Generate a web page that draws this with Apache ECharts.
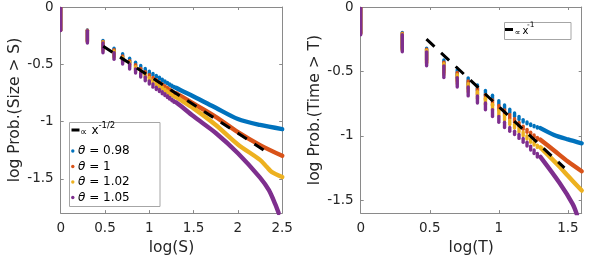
<!DOCTYPE html>
<html><head><meta charset="utf-8">
<script src="https://cdn.jsdelivr.net/npm/echarts@6/dist/echarts.min.js"></script>
<style>html,body{margin:0;padding:0;background:#fff}#c{width:598px;height:261px}</style>
</head><body><div id="c"></div>
<script>
// ---------- data ----------
const seriesNames = ['θ = 0.98', 'θ = 1', 'θ = 1.02', 'θ = 1.05'];
const seriesColors = ['#0072BD', '#D95319', '#EDB120', '#7E2F8E'];

// Left panel: log10 P(Size >= S), S = 1..20 (discrete stacks)
const sizeS = [1, 2, 3, 4, 5, 6, 7, 8, 9, 10, 11, 12, 13, 14, 15, 16, 17, 18, 19, 20];
const sizeLevBlue   = [0, -0.200, -0.293, -0.360, -0.408, -0.448, -0.482, -0.511, -0.537, -0.560, -0.580, -0.598, -0.614, -0.630, -0.645, -0.658, -0.671, -0.683, -0.694, -0.705];
const sizeLevRed    = [0, -0.202, -0.300, -0.372, -0.427, -0.468, -0.505, -0.537, -0.566, -0.592, -0.615, -0.636, -0.654, -0.671, -0.687, -0.702, -0.716, -0.729, -0.741, -0.753];
const sizeLevYellow = [0, -0.204, -0.306, -0.384, -0.440, -0.483, -0.522, -0.556, -0.588, -0.615, -0.640, -0.663, -0.682, -0.700, -0.717, -0.733, -0.748, -0.762, -0.775, -0.787];
const sizeLevPurple = [0, -0.206, -0.314, -0.399, -0.456, -0.498, -0.541, -0.577, -0.611, -0.645, -0.673, -0.700, -0.720, -0.739, -0.757, -0.774, -0.790, -0.805, -0.819, -0.832];
// Left panel: dense tails [log(S), log Prob]
const sizeTailBlue   = [[1.301,-0.705],[1.349,-0.725],[1.5,-0.781],[1.75,-0.88],[2.0,-0.978],[2.25,-1.03],[2.5,-1.066]];
const sizeTailRed    = [[1.301,-0.753],[1.349,-0.775],[1.5,-0.845],[1.75,-0.96],[2.0,-1.093],[2.25,-1.206],[2.5,-1.30]];
const sizeTailYellow = [[1.301,-0.787],[1.349,-0.81],[1.5,-0.885],[1.75,-1.03],[2.0,-1.20],[2.25,-1.335],[2.33,-1.40],[2.38,-1.44],[2.5,-1.485]];
const sizeTailPurple = [[1.301,-0.832],[1.349,-0.86],[1.5,-0.955],[1.75,-1.10],[2.0,-1.277],[2.25,-1.49],[2.35,-1.60],[2.42,-1.72],[2.46,-1.80]];
const sizeFit = [[0.48,-0.343],[2.29,-1.248]];   // ∝ x^{-1/2}

// Right panel: log10 P(Time >= T), T = 1..20
const timeT = [1, 2, 3, 4, 5, 6, 7, 8, 9, 10, 11, 12, 13, 14, 15, 16, 17, 18, 19, 20];
const timeLevBlue   = [0, -0.198, -0.319, -0.412, -0.488, -0.550, -0.605, -0.648, -0.685, -0.728, -0.761, -0.793, -0.823, -0.850, -0.874, -0.893, -0.907, -0.920, -0.930, -0.940];
const timeLevRed    = [0, -0.203, -0.328, -0.428, -0.508, -0.575, -0.632, -0.680, -0.722, -0.765, -0.800, -0.835, -0.868, -0.897, -0.925, -0.950, -0.972, -0.993, -1.012, -1.030];
const timeLevYellow = [0, -0.208, -0.336, -0.440, -0.525, -0.596, -0.657, -0.708, -0.755, -0.800, -0.840, -0.878, -0.912, -0.940, -0.970, -1.000, -1.025, -1.050, -1.072, -1.090];
const timeLevPurple = [0, -0.215, -0.348, -0.457, -0.548, -0.621, -0.690, -0.745, -0.798, -0.850, -0.895, -0.935, -0.965, -0.990, -1.020, -1.050, -1.080, -1.110, -1.137, -1.164];
const timeTailBlue   = [[1.301,-0.94],[1.4,-0.993],[1.5,-1.028],[1.6,-1.058]];
const timeTailRed    = [[1.301,-1.03],[1.4,-1.114],[1.5,-1.20],[1.6,-1.275]];
const timeTailYellow = [[1.301,-1.09],[1.44,-1.24],[1.5,-1.31],[1.6,-1.425]];
const timeTailPurple = [[1.301,-1.164],[1.44,-1.367],[1.535,-1.53],[1.565,-1.61]];
const timeFit = [[0.476,-0.25],[1.475,-1.249]];  // ∝ x^{-1}

// ticks
const sizeXTicks = [0, 0.5, 1, 1.5, 2, 2.5];
const sizeYTicks = [0, -0.5, -1, -1.5];
const timeXTicks = [0, 0.5, 1, 1.5];
const timeYTicks = [0, -0.5, -1, -1.5];

// ---------- build ----------
const FONT = 'DejaVu Sans';
const TXT = '#262626';
const AX = '#8a8a8a';

function stacks(xs, lev) {
  const out = [];
  for (let i = 0; i < xs.length - 1; i++) out.push([Math.log10(xs[i]), lev[i], lev[i + 1]]);
  return out;
}
function stackSeries(name, data, color, gi) {
  return {
    type: 'custom', name, xAxisIndex: gi * 2, yAxisIndex: gi * 2, clip: true,
    encode: { x: 0, y: [1, 2] }, data,
    renderItem: function (params, api) {
      const p1 = api.coord([api.value(0), api.value(1)]);
      const p2 = api.coord([api.value(0), api.value(2)]);
      return { type: 'line', shape: { x1: p1[0], y1: p1[1], x2: p2[0], y2: p2[1] },
        style: { stroke: color, lineWidth: 3.4, lineCap: 'round' } };
    }
  };
}
function tailSeries(name, data, color, gi) {
  return { type: 'line', name, xAxisIndex: gi * 2, yAxisIndex: gi * 2, data, showSymbol: false, symbol: 'none',
    smooth: 0.3, clip: true, lineStyle: { color, width: 4.4, cap: 'round', join: 'round' } };
}
function fitSeries(name, data, gi) {
  return { type: 'line', name, xAxisIndex: gi * 2, yAxisIndex: gi * 2, data, symbol: 'none', z: 5,
    lineStyle: { color: '#000', width: 3, type: [11, 9], cap: 'butt' } };
}
function xAxes(gi, max, ticks, name) {
  const common = { type: 'value', gridIndex: gi, min: 0, max, splitLine: { show: false },
    axisLine: { onZero: false, lineStyle: { color: AX, width: 1 } },
    axisTick: { inside: true, length: 3, customValues: ticks, lineStyle: { color: AX } } };
  return [
    Object.assign({}, common, { position: 'bottom', name, nameLocation: 'middle', nameGap: 26,
      nameTextStyle: { fontFamily: FONT, fontSize: 15.5, color: TXT },
      axisLabel: { customValues: ticks, margin: 8, fontFamily: FONT, fontSize: 13.5, color: TXT } }),
    Object.assign({}, common, { position: 'top', axisLabel: { show: false } })
  ];
}
function yAxes(gi, min, ticks, name) {
  const common = { type: 'value', gridIndex: gi, min, max: 0, splitLine: { show: false },
    axisLine: { onZero: false, lineStyle: { color: AX, width: 1 } },
    axisTick: { inside: true, length: 3, customValues: ticks, lineStyle: { color: AX } } };
  return [
    Object.assign({}, common, { position: 'left', name, nameLocation: 'middle', nameGap: 36,
      nameTextStyle: { fontFamily: FONT, fontSize: 15.5, color: TXT },
      axisLabel: { customValues: ticks, margin: 7, fontFamily: FONT, fontSize: 13.5, color: TXT } }),
    Object.assign({}, common, { position: 'right', axisLabel: { show: false } })
  ];
}

const sizeLev = [sizeLevBlue, sizeLevRed, sizeLevYellow, sizeLevPurple];
const sizeTail = [sizeTailBlue, sizeTailRed, sizeTailYellow, sizeTailPurple];
const timeLev = [timeLevBlue, timeLevRed, timeLevYellow, timeLevPurple];
const timeTail = [timeTailBlue, timeTailRed, timeTailYellow, timeTailPurple];

const series = [];
for (let k = 0; k < 4; k++) series.push(stackSeries(seriesNames[k], stacks(sizeS, sizeLev[k]), seriesColors[k], 0));
for (let k = 0; k < 4; k++) series.push(tailSeries(seriesNames[k], sizeTail[k], seriesColors[k], 0));
series.push(fitSeries('∝ x^-1/2', sizeFit, 0));
for (let k = 0; k < 4; k++) series.push(stackSeries(seriesNames[k], stacks(timeT, timeLev[k]), seriesColors[k], 1));
for (let k = 0; k < 4; k++) series.push(tailSeries(seriesNames[k], timeTail[k], seriesColors[k], 1));
series.push(fitSeries('∝ x^-1', timeFit, 1));

// legends (drawn as graphic elements)
const legendLeft = [];
legendLeft.push({ type: 'rect', shape: { x: 69.5, y: 122.5, width: 90.5, height: 84 }, style: { fill: '#fff', stroke: '#a6a6a6', lineWidth: 1 } });
legendLeft.push({ type: 'rect', shape: { x: 71.5, y: 128.5, width: 8, height: 3 }, style: { fill: '#000' } });
legendLeft.push({ type: 'text', x: 80, y: 132, style: { text: '∝', font: '10px "DejaVu Sans"', fill: '#000', verticalAlign: 'middle' } });
legendLeft.push({ type: 'text', x: 91.5, y: 131, style: { text: 'x', font: '12px "DejaVu Sans"', fill: '#000', verticalAlign: 'middle' } });
legendLeft.push({ type: 'text', x: 98.5, y: 125.5, style: { text: '-1/2', font: '8.5px "DejaVu Sans"', fill: '#000', verticalAlign: 'middle' } });
const entryY = [151, 166.5, 182, 197.5];
for (let k = 0; k < 4; k++) {
  const parts = seriesNames[k].split(' ');
  legendLeft.push({ type: 'circle', shape: { cx: 72.8, cy: entryY[k], r: 1.7 }, style: { fill: seriesColors[k] } });
  legendLeft.push({ type: 'text', x: 78, y: entryY[k], style: {
    text: '{i|' + parts[0] + '} ' + parts.slice(1).join(' '),
    rich: { i: { fontStyle: 'italic', fontFamily: FONT, fontSize: 12 } },
    font: '12px "DejaVu Sans"', fill: '#000', verticalAlign: 'middle' } });
}
const legendRight = [
  { type: 'rect', shape: { x: 504.5, y: 22.5, width: 66.5, height: 17 }, style: { fill: '#fff', stroke: '#a6a6a6', lineWidth: 1 } },
  { type: 'rect', shape: { x: 505, y: 28, width: 8, height: 3 }, style: { fill: '#000' } },
  { type: 'text', x: 514.5, y: 33, style: { text: '∝', font: '8px "DejaVu Sans"', fill: '#000', verticalAlign: 'middle' } },
  { type: 'text', x: 522.5, y: 31.5, style: { text: 'x', font: '10px "DejaVu Sans"', fill: '#000', verticalAlign: 'middle' } },
  { type: 'text', x: 527, y: 25, style: { text: '-1', font: '7.5px "DejaVu Sans"', fill: '#000', verticalAlign: 'middle' } }
];

const option = {
  animation: false,
  backgroundColor: '#fff',
  grid: [
    { left: 60.7, top: 6, width: 221.5, height: 211 },
    { left: 360.7, top: 6, width: 221, height: 211 }
  ],
  xAxis: [].concat(xAxes(0, 2.5, sizeXTicks, 'log(S)'), xAxes(1, 1.6, timeXTicks, 'log(T)')),
  yAxis: [].concat(yAxes(0, -1.8, sizeYTicks, 'log Prob.(Size > S)'), yAxes(1, -1.6, timeYTicks, 'log Prob.(Time > T)')),
  series,
  graphic: [
    { type: 'group', z: 100, children: legendLeft },
    { type: 'group', z: 100, children: legendRight }
  ]
};
const chart = echarts.init(document.getElementById('c'), null, { renderer: 'canvas' });
chart.setOption(option);
</script></body></html>
